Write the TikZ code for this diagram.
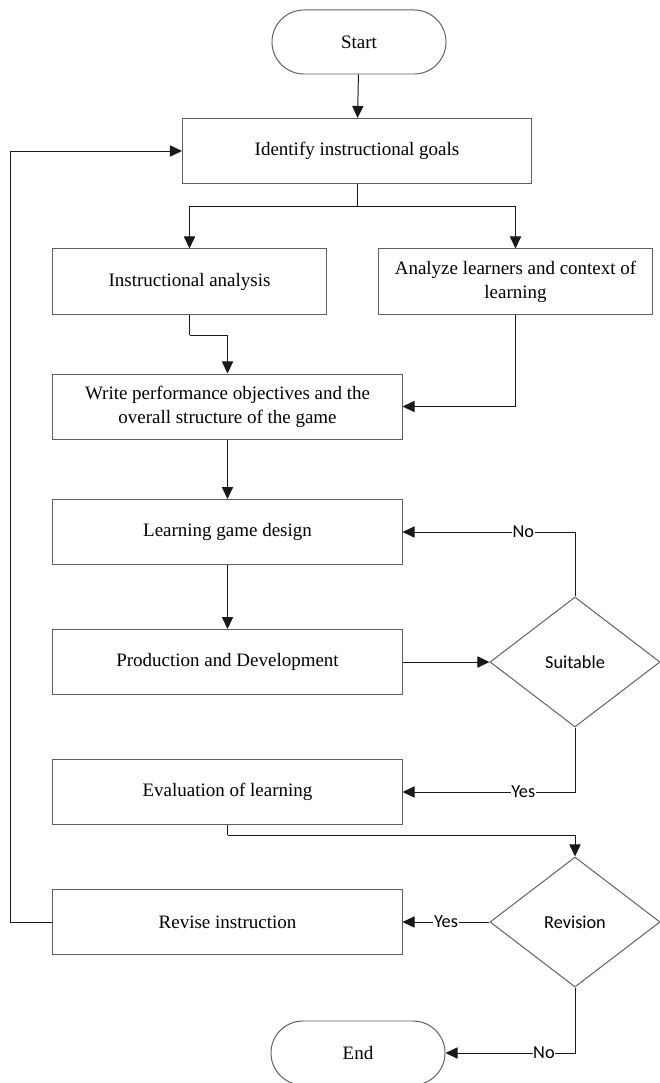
\documentclass[tikz,border=0pt]{standalone}
\usepackage{fontspec}
\setmainfont{Liberation Serif}
\newfontfamily\labelfont{Carlito}
\usetikzlibrary{shapes.geometric,arrows.meta}
\definecolor{boxline}{RGB}{95,95,95}
\definecolor{flowline}{RGB}{25,25,25}

\begin{document}
\begin{tikzpicture}[x=0.025cm,y=-0.025cm,
    process/.style={draw=boxline,line width=0.7pt,minimum width=8.725cm,minimum height=1.625cm,
        align=center,inner sep=2pt,font=\fontsize{13.5}{17}\selectfont},
    narrow/.style={process,minimum width=6.825cm},
    terminal/.style={draw=boxline,line width=0.7pt,minimum width=4.35cm,minimum height=1.6cm,
        rounded corners=0.8cm,font=\fontsize{13.5}{17}\selectfont},
    decision/.style={diamond,draw=boxline,line width=0.7pt,minimum width=4.25cm,minimum height=3.25cm,
        inner sep=0pt,font=\labelfont\fontsize{13}{15}\selectfont},
    flow/.style={draw=flowline,line width=0.7pt,-{Triangle[length=0.3cm,width=0.28cm]}},
    answer/.style={fill=white,inner sep=0.5pt,font=\labelfont\fontsize{13}{15}\selectfont}
]
\useasboundingbox (0,0) rectangle (659,1083);

% Terminals
\node[terminal] (start) at (359,42) {Start};
\node[terminal] (end) at (358,1053) {End};

% Planning steps
\node[process] (goals) at (357,151) {Identify instructional goals};
\node[narrow] (analysis) at (189.5,281.5) {Instructional analysis};
\node[narrow] (learners) at (515.5,281.5) {Analyze learners and context of\\learning};
\node[process] (objectives) at (227.5,406.5) {Write performance objectives and the\\overall structure of the game};

% Design and production
\node[process] (design) at (227.5,532) {Learning game design};
\node[process] (production) at (227.5,662) {Production and Development};
\node[process] (evaluation) at (227.5,792) {Evaluation of learning};
\node[process] (revise) at (227.5,922) {Revise instruction};

% Decisions
\node[decision] (suitable) at (575,662) {Suitable};
\node[decision] (revision) at (575,922) {Revision};

% Helper points for the bends
\coordinate (split) at (357,206);
\coordinate (join) at (189.5,335);
\coordinate (down) at (227.5,835);
\coordinate (back) at (10,922);

% Connectors
\draw[flow] (start) -- (goals);
\draw[draw=flowline,line width=0.7pt] (goals) -- (split);
\draw[flow] (split) -| (analysis);
\draw[flow] (split) -| (learners);
\draw[draw=flowline,line width=0.7pt] (analysis) -- (join);
\draw[flow] (join) -| (objectives);
\draw[flow] (learners) |- (objectives);
\draw[flow] (objectives) -- (design);
\draw[flow] (design) -- (production);
\draw[flow] (production) -- (suitable);
\draw[flow] (suitable) |- node[answer,pos=0.65] {No} (design);
\draw[flow] (suitable) |- node[answer,pos=0.65] {Yes} (evaluation);
\draw[draw=flowline,line width=0.7pt] (evaluation) -- (down);
\draw[flow] (down) -| (revision);
\draw[flow] (revision) -- node[answer] {Yes} (revise);
\draw[flow] (revision) |- node[answer,pos=0.62] {No} (end);
\draw[flow] (revise) -- (back) |- (goals);

\end{tikzpicture}
\end{document}
